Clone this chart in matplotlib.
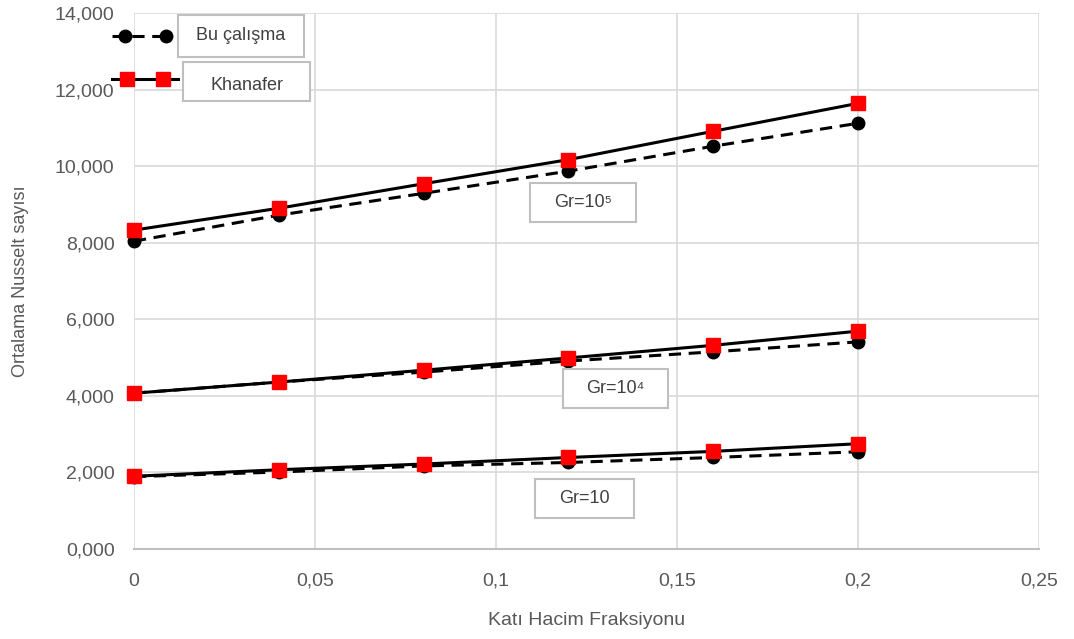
import matplotlib
matplotlib.use("Agg")
import matplotlib.pyplot as plt
from matplotlib.lines import Line2D
from matplotlib.patches import Rectangle
from matplotlib.ticker import FuncFormatter, MultipleLocator

plt.rcParams["font.family"] = ["Liberation Sans", "DejaVu Sans"]

# volume fraction
phi = [0, 0.04, 0.08, 0.12, 0.16, 0.2]

# average Nusselt number, this work
bu_gr1e5 = [8040, 8720, 9290, 9870, 10520, 11120]
bu_gr1e4 = [4070, 4360, 4620, 4910, 5150, 5410]
bu_gr10 = [1890, 2010, 2170, 2260, 2390, 2540]

# Khanafer
kh_gr1e5 = [8330, 8900, 9540, 10170, 10910, 11640]
kh_gr1e4 = [4070, 4360, 4670, 4990, 5320, 5690]
kh_gr10 = [1900, 2070, 2220, 2390, 2550, 2750]

gr_labels = ["Gr=10\u2075", "Gr=10\u2074", "Gr=10"]

GRAY = "#595959"
TXT = "#404040"
EDGE = "#bfbfbf"

fig = plt.figure(figsize=(10.74, 6.39), dpi=100)
ax = fig.add_axes([134 / 1074, 1 - 549 / 639, (1039 - 134) / 1074, (549 - 13) / 639])

for bu, kh in [(bu_gr1e5, kh_gr1e5), (bu_gr1e4, kh_gr1e4), (bu_gr10, kh_gr10)]:
    ax.plot(phi, bu, color="black", ls=(0, (4, 2.5)), lw=2.2, marker="o", ms=9,
            mfc="black", mec="black", zorder=3, clip_on=False)
    ax.plot(phi, kh, color="black", ls="-", lw=2.2, marker="s", ms=10,
            mfc="#ff0000", mec="#ff0000", zorder=4, clip_on=False)

ax.set_xlim(0, 0.25)
ax.set_ylim(0, 14000)
ax.xaxis.set_major_locator(MultipleLocator(0.05))
ax.yaxis.set_major_locator(MultipleLocator(2000))

def fmt_x(v, pos):
    s = ("%.2f" % v).rstrip("0").rstrip(".")
    return s.replace(".", ",")

def fmt_y(v, pos):
    return ("{:,.3f}".format(v / 1000.0)).replace(".", ",")

ax.xaxis.set_major_formatter(FuncFormatter(fmt_x))
ax.yaxis.set_major_formatter(FuncFormatter(fmt_y))

ax.grid(True, color="#d9d9d9", lw=1.2)
ax.set_axisbelow(True)
for side in ["top", "right", "left"]:
    ax.spines[side].set_visible(False)
ax.spines["bottom"].set_color(EDGE)
ax.spines["bottom"].set_linewidth(1.5)
ax.tick_params(length=0, labelsize=14, colors=GRAY)
ax.tick_params(axis="y", pad=14)
ax.tick_params(axis="x", pad=17)

ax.set_xlabel("Katı Hacim Fraksiyonu", fontsize=14, color=GRAY, labelpad=16)
ax.set_ylabel("Ortalama Nusselt sayısı", fontsize=13, color=GRAY, va="center")
ax.yaxis.set_label_coords(-(134 - 20) / 905, 0.5)

# pixel helpers for the legend and label boxes
def fx(px):
    return px / 1074

def fy(py):
    return 1 - py / 639

def text_box(x0, y0, x1, y1, txt, dy=0):
    fig.add_artist(Rectangle((fx(x0), fy(y1)), fx(x1) - fx(x0), fy(y0) - fy(y1),
                             fc="white", ec=EDGE, lw=1.5, zorder=5,
                             transform=fig.transFigure))
    fig.text(fx((x0 + x1) / 2), fy((y0 + y1) / 2 + dy), txt, fontsize=13, color=TXT,
             ha="center", va="center", zorder=6)

# legend: line samples with separate text boxes
fig.add_artist(Line2D([fx(112), fx(172)], [fy(36), fy(36)], color="black",
                      ls=(0, (4, 2.5)), lw=2.2))
fig.add_artist(Line2D([fx(125), fx(166)], [fy(36), fy(36)], ls="none", marker="o",
                      ms=9, color="black"))
fig.add_artist(Line2D([fx(112), fx(178)], [fy(79), fy(79)], color="black", lw=2.2))
fig.add_artist(Line2D([fx(127), fx(163)], [fy(79), fy(79)], ls="none", marker="s",
                      ms=10, color="#ff0000"))
text_box(178, 15, 304, 57, "Bu çalışma")
text_box(183, 62, 310, 101, "Khanafer", dy=4)

# Grashof number labels
text_box(530, 183, 636, 222, gr_labels[0])
text_box(563, 369, 668, 408, gr_labels[1])
text_box(535, 479, 634, 518, gr_labels[2])

fig.savefig("out.png", dpi=100)
